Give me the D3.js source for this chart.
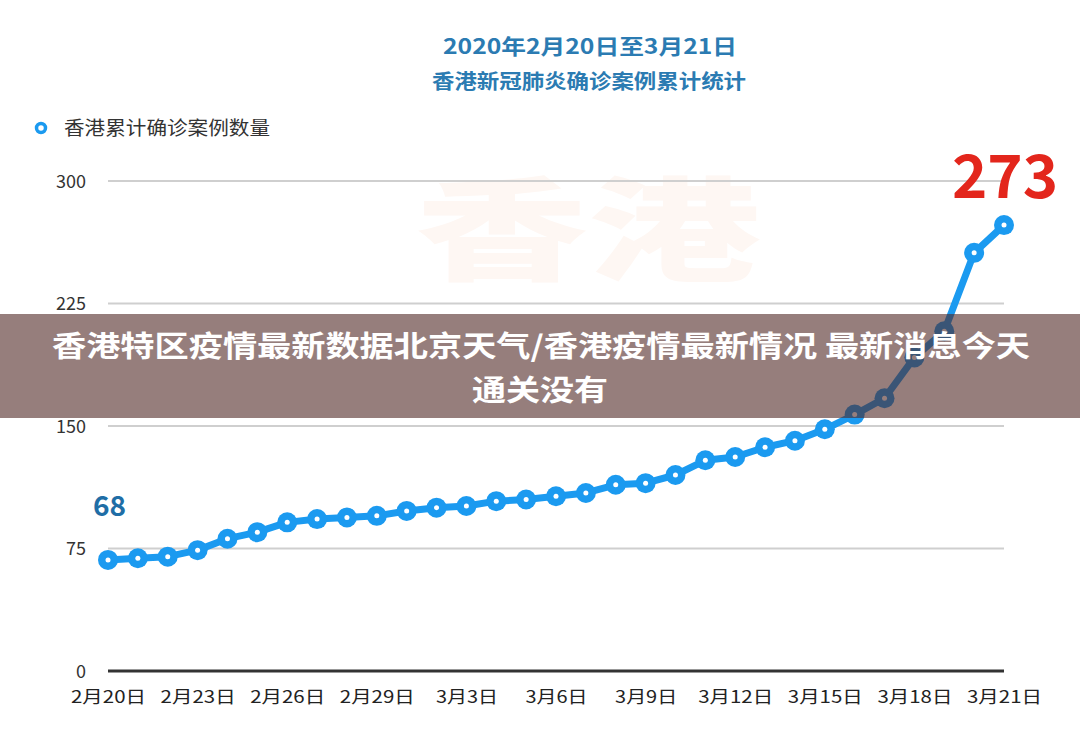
<!DOCTYPE html>
<html>
<head>
<meta charset="utf-8">
<script src="https://cdn.jsdelivr.net/npm/d3@7/dist/d3.min.js"></script>
<style>
  html, body { margin: 0; padding: 0; background: #fff; }
  svg { display: block; }
  text { font-family: "Noto Sans CJK SC", "Liberation Sans", sans-serif; }
</style>
</head>
<body>
<svg id="chart" width="1080" height="734"></svg>
<script>
// ---- data ----
const categories = ["2月20日","2月21日","2月22日","2月23日","2月24日","2月25日","2月26日","2月27日","2月28日","2月29日",
  "3月1日","3月2日","3月3日","3月4日","3月5日","3月6日","3月7日","3月8日","3月9日","3月10日",
  "3月11日","3月12日","3月13日","3月14日","3月15日","3月16日","3月17日","3月18日","3月19日","3月20日","3月21日"];
const cases = [68,69,70,74,81,85,91,93,94,95,98,100,101,104,105,107,109,114,115,120,129,131,137,141,148,157,167,192,208,256,273];
const xTickLabels = ["2月20日","2月23日","2月26日","2月29日","3月3日","3月6日","3月9日","3月12日","3月15日","3月18日","3月21日"];
const yTicks = [0,75,150,225,300];
const titleLines = ["2020年2月20日至3月21日","香港新冠肺炎确诊案例累计统计"];
const seriesName = "香港累计确诊案例数量";
const bannerLines = ["香港特区疫情最新数据北京天气/香港疫情最新情况 最新消息今天","通关没有"];
const watermark = "香港";

// ---- chart ----
const svg = d3.select("#chart");
const W = 1080, H = 734;
const x = d3.scalePoint().domain(categories).range([108, 1004]);
const y = d3.scaleLinear().domain([0, 300]).range([671, 181]);

// faint watermark (behind everything)
svg.append("text").attr("x", 588).attr("y", 272).attr("text-anchor", "middle")
  .attr("font-size", 112).attr("font-weight", 900).attr("fill", "#fef7f3")
  .attr("textLength", 345).attr("lengthAdjust", "spacingAndGlyphs")
  .text(watermark);

// title
svg.append("text").attr("x", 590).attr("y", 54).attr("text-anchor", "middle")
  .attr("font-size", 21).attr("font-weight", 700).attr("fill", "#2b7bb2")
  .attr("textLength", 294).attr("lengthAdjust", "spacingAndGlyphs")
  .text(titleLines[0]);
svg.append("text").attr("x", 589).attr("y", 89).attr("text-anchor", "middle")
  .attr("font-size", 20).attr("font-weight", 700).attr("fill", "#2b7bb2")
  .attr("textLength", 314).attr("lengthAdjust", "spacingAndGlyphs")
  .text(titleLines[1]);

// legend
svg.append("circle").attr("cx", 41).attr("cy", 128).attr("r", 4.5)
  .attr("fill", "#fff").attr("stroke", "#1b9af0").attr("stroke-width", 3.5);
svg.append("text").attr("x", 64).attr("y", 135)
  .attr("font-size", 19).attr("fill", "#333")
  .attr("textLength", 206).attr("lengthAdjust", "spacingAndGlyphs")
  .text(seriesName);

// y axis + grid
const yAxis = d3.axisLeft(y).tickValues(yTicks).tickSize(0).tickPadding(0);
const gy = svg.append("g").attr("transform", "translate(86,0)").call(yAxis);
gy.select(".domain").remove();
gy.selectAll("text").attr("font-family", "'Liberation Sans', Arial, sans-serif")
  .attr("font-size", 18).attr("fill", "#333").attr("dy", "0.34em");

svg.append("g").selectAll("line").data(yTicks.filter(d => d > 0)).join("line")
  .attr("x1", 108).attr("x2", 1004)
  .attr("y1", d => y(d)).attr("y2", d => y(d))
  .attr("stroke", "#cfcfcf").attr("stroke-width", 2);
svg.append("line").attr("x1", 108).attr("x2", 1004)
  .attr("y1", y(0)).attr("y2", y(0))
  .attr("stroke", "#333").attr("stroke-width", 3);

// x axis
const xAxis = d3.axisBottom(x).tickValues(xTickLabels).tickSize(0).tickPadding(0);
const gx = svg.append("g").attr("transform", "translate(0,688)").call(xAxis);
gx.select(".domain").remove();
gx.selectAll("text").attr("font-size", 17).attr("fill", "#222").attr("dy", "0.9em")
  .each(function(d) {
    const n = d.length;
    d3.select(this).attr("textLength", n >= 5 ? 75 : 62).attr("lengthAdjust", "spacingAndGlyphs");
  });

// line + points
const line = d3.line().x((d, i) => x(categories[i])).y(d => y(d));
svg.append("path").datum(cases).attr("d", line)
  .attr("fill", "none").attr("stroke", "#1b9af0").attr("stroke-width", 7)
  .attr("stroke-linejoin", "round").attr("stroke-linecap", "round");
svg.append("g").selectAll("circle").data(cases).join("circle")
  .attr("cx", (d, i) => x(categories[i])).attr("cy", d => y(d)).attr("r", 10)
  .attr("fill", "#1b9af0");
svg.append("g").selectAll("circle").data(cases).join("circle")
  .attr("cx", (d, i) => x(categories[i])).attr("cy", d => y(d)).attr("r", 2.5)
  .attr("fill", "#fff");

// annotations
svg.append("text").attr("x", x(categories[0]) - 15).attr("y", 516)
  .attr("font-family", "'Liberation Sans', Arial, sans-serif")
  .attr("font-size", 28).attr("font-weight", 700).attr("fill", "#1f6ea6")
  .text(cases[0]);
svg.append("text").attr("x", x(categories[cases.length - 1]) + 1).attr("y", 198)
  .attr("text-anchor", "middle")
  .attr("font-family", "'Liberation Sans', Arial, sans-serif")
  .attr("font-size", 60).attr("font-weight", 700).attr("fill", "#e3261c")
  .text(cases[cases.length - 1]);

// banner overlay
svg.append("rect").attr("x", 0).attr("y", 314).attr("width", W).attr("height", 104)
  .attr("fill", "rgb(80,40,36)").attr("fill-opacity", 0.6);
svg.append("text").attr("x", 541).attr("y", 357).attr("text-anchor", "middle")
  .attr("font-size", 29).attr("font-weight", 700).attr("fill", "#fff")
  .attr("textLength", 978).attr("lengthAdjust", "spacingAndGlyphs")
  .text(bannerLines[0]);
svg.append("text").attr("x", 540).attr("y", 401).attr("text-anchor", "middle")
  .attr("font-size", 29).attr("font-weight", 700).attr("fill", "#fff")
  .attr("textLength", 136).attr("lengthAdjust", "spacingAndGlyphs")
  .text(bannerLines[1]);
</script>
</body>
</html>
